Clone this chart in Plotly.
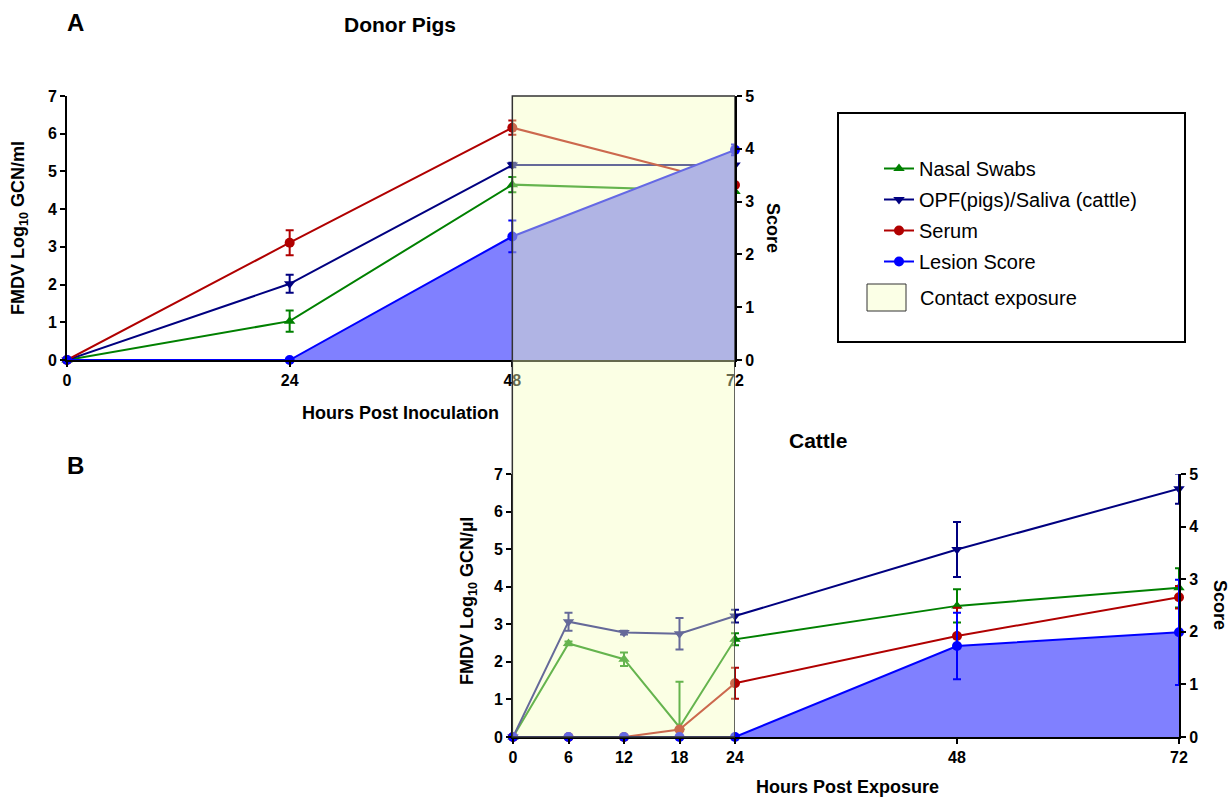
import plotly.graph_objects as go

# ---------------- data ----------------
pig_hours = [0, 24, 48, 72]
pig_nasal = [0, 1.03, 4.65, 4.47]
pig_nasal_err = [0, 0.28, 0.20, 0.15]
pig_opf = [0, 2.02, 5.17, 5.17]
pig_opf_err = [0, 0.24, 0.06, 0.05]
pig_serum = [0, 3.11, 6.16, 4.64]
pig_serum_err = [0, 0.33, 0.19, 0.25]
pig_lesion = [0, 0, 2.34, 3.98]
pig_lesion_err = [0, 0, 0.30, 0.10]

cattle_hours = [0, 6, 12, 18, 24, 48, 72]
cattle_nasal = [0, 2.49, 2.07, 0.26, 2.60, 3.49, 3.97]
cattle_nasal_err = [0, 0.05, 0.18, 1.21, 0.16, 0.44, 0.52]
cattle_opf = [0, 3.07, 2.78, 2.75, 3.22, 4.99, 6.61]
cattle_opf_err = [0, 0.24, 0.05, 0.42, 0.17, 0.73, 0.40]
cattle_serum = [0, 0, 0, 0.20, 1.43, 2.69, 3.72]
cattle_serum_err = [0, 0, 0, 0, 0.41, 0.75, 0.30]
cattle_lesion = [0, 0, 0, 0, 0, 1.73, 1.99]
cattle_lesion_err = [0, 0, 0, 0, 0, 0.63, 1.00]

pig_ticks = [0, 24, 48, 72]
cattle_ticks = [0, 6, 12, 18, 24, 48, 72]
contact_window = [48, 72]   # in pig hours (= cattle 0-24)

names = ["Nasal Swabs", "OPF(pigs)/Saliva (cattle)", "Serum", "Lesion Score"]
colors = ["#008000", "#000080", "#b00000", "#0000ff"]
symbols = ["triangle-up", "triangle-down", "circle", "circle"]

W, H = 1232, 798
def px(x): return x / W
def py(y): return 1 - y / H

FONT = "Liberation Sans, Arial, sans-serif"

fig = go.Figure()

def add_series(x, y, err, i, xa, ya, show):
    fig.add_trace(go.Scatter(
        x=x, y=y, xaxis=xa, yaxis=ya, mode="lines+markers",
        name=names[i], legendgroup=names[i], showlegend=show, legendrank=i + 1,
        line=dict(color=colors[i], width=2),
        marker=dict(symbol=symbols[i], size=10, color=colors[i]),
        error_y=dict(type="data", array=err, visible=True, color=colors[i], thickness=2, width=4),
        cliponaxis=False,
    ))

# Panel A
fig.add_trace(go.Scatter(x=pig_hours, y=pig_lesion, xaxis="x", yaxis="y2", mode="none",
                         fill="tozeroy", fillcolor="rgb(128,128,255)", showlegend=False, hoverinfo="skip"))
add_series(pig_hours, pig_nasal, pig_nasal_err, 0, "x", "y", True)
add_series(pig_hours, pig_opf, pig_opf_err, 1, "x", "y", True)
add_series(pig_hours, pig_serum, pig_serum_err, 2, "x", "y", True)
add_series(pig_hours, pig_lesion, pig_lesion_err, 3, "x", "y2", True)

# Panel B
fig.add_trace(go.Scatter(x=cattle_hours, y=cattle_lesion, xaxis="x3", yaxis="y4", mode="none",
                         fill="tozeroy", fillcolor="rgb(128,128,255)", showlegend=False, hoverinfo="skip"))
add_series(cattle_hours, cattle_nasal, cattle_nasal_err, 0, "x3", "y3", False)
add_series(cattle_hours, cattle_opf, cattle_opf_err, 1, "x3", "y3", False)
add_series(cattle_hours, cattle_serum, cattle_serum_err, 2, "x3", "y3", False)
add_series(cattle_hours, cattle_lesion, cattle_lesion_err, 3, "x3", "y4", False)

tickfont = dict(family=FONT, size=16, color="black", weight="bold")
axcommon = dict(showline=True, linecolor="black", linewidth=2, ticks="outside", ticklen=5,
                tickwidth=2, tickcolor="black", showgrid=False, zeroline=False, tickfont=tickfont,
                fixedrange=True, automargin=False)

A_dom_x = [px(67), px(735)]
A_dom_y = [py(360), py(96)]
B_dom_x = [px(513), px(1179)]
B_dom_y = [py(737), py(474)]

fig.update_layout(
    width=W, height=H, margin=dict(l=0, r=0, t=0, b=0, pad=0, autoexpand=False),
    paper_bgcolor="white", plot_bgcolor="rgba(0,0,0,0)",
    font=dict(family=FONT, color="black"),
    xaxis=dict(domain=A_dom_x, range=[0, 72], tickvals=pig_ticks, anchor="y", **axcommon),
    yaxis=dict(domain=A_dom_y, range=[0, 7], dtick=1, anchor="x", **axcommon),
    yaxis2=dict(domain=A_dom_y, range=[0, 5], dtick=1, anchor="x", overlaying="y", side="right", **axcommon),
    xaxis3=dict(domain=B_dom_x, range=[0, 72], tickvals=cattle_ticks, anchor="y3", **axcommon),
    yaxis3=dict(domain=B_dom_y, range=[0, 7], dtick=1, anchor="x3", **axcommon),
    yaxis4=dict(domain=B_dom_y, range=[0, 5], dtick=1, anchor="x3", overlaying="y3", side="right", **axcommon),
    legend=dict(x=px(879), xanchor="left", y=py(149), yanchor="top",
                font=dict(family=FONT, size=20, color="black"),
                bgcolor="rgba(0,0,0,0)", tracegroupgap=2, itemclick=False, itemdoubleclick=False),
    showlegend=True,
)

# contact exposure overlay spanning both panels
fig.add_shape(type="rect", xref="x", x0=contact_window[0], x1=contact_window[1],
              yref="paper", y0=py(737), y1=py(96),
              fillcolor="rgb(245,255,189)", opacity=0.41, line=dict(width=0), layer="above")
fig.add_shape(type="rect", xref="x", x0=contact_window[0], x1=contact_window[1],
              yref="paper", y0=py(737), y1=py(96),
              fillcolor="rgba(0,0,0,0)", line=dict(color="#333333", width=1.5), layer="above")

# legend box and contact swatch
fig.add_shape(type="rect", xref="paper", yref="paper", x0=px(838), x1=px(1185), y0=py(342), y1=py(113),
              line=dict(color="black", width=2), fillcolor="rgba(0,0,0,0)")
fig.add_shape(type="rect", xref="paper", yref="paper", x0=px(867), x1=px(906), y0=py(311), y1=py(284),
              line=dict(color="#333333", width=1), fillcolor="rgb(251,255,230)")

def ann(text, x, y, size, angle=0, bold=True, xanchor="center"):
    fig.add_annotation(text=("<b>%s</b>" % text) if bold else text, x=px(x), y=py(y),
                       xref="paper", yref="paper", showarrow=False, textangle=angle,
                       xanchor=xanchor, yanchor="middle",
                       font=dict(family=FONT, size=size, color="black"))

ann("Contact exposure", 918, 298, 20, bold=False, xanchor="left")
ann("A", 75, 22, 24)
ann("B", 75, 465, 24)
ann("Donor Pigs", 400, 25, 21)
ann("Cattle", 818, 440, 21)
ann("FMDV Log<sub>10</sub> GCN/ml", 19, 228, 18, angle=-90)
ann("Score", 773, 228, 18, angle=90)
ann("Hours Post Inoculation", 400, 413, 18)
ann("FMDV Log<sub>10</sub> GCN/µl", 468, 601, 18, angle=-90)
ann("Score", 1220, 605, 18, angle=90)
ann("Hours Post Exposure", 847, 787, 18)

fig.write_html("out.html", config={"displayModeBar": False},
               post_script="document.body.style.margin='0';")
